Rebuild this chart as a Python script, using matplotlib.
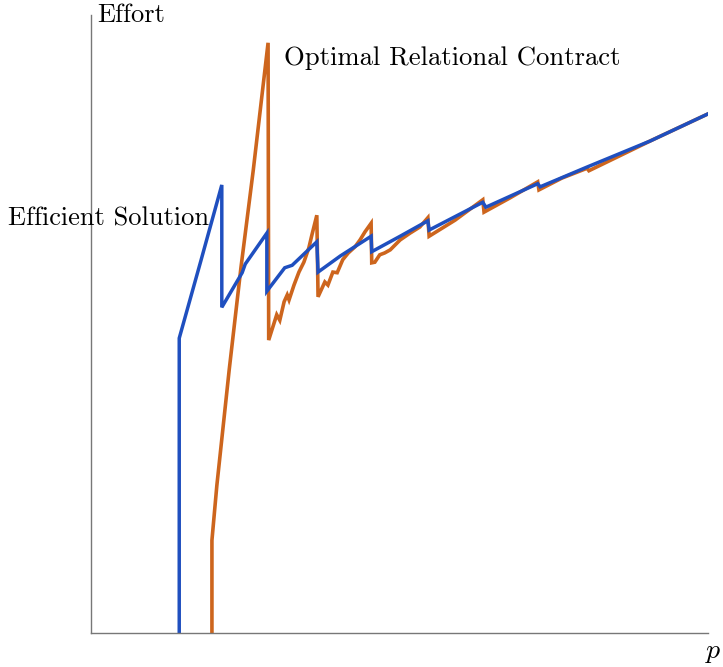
import numpy as np
import matplotlib
matplotlib.use("Agg")
import matplotlib.pyplot as plt

plt.rcParams['font.family'] = 'cmr10'
plt.rcParams['mathtext.fontset'] = 'cm'

# optimal relational contract (p, effort)
orc_p = [0.196, 0.196, 0.204, 0.224, 0.243, 0.263, 0.287,
         0.288, 0.301, 0.306, 0.313, 0.318, 0.321, 0.329, 0.337, 0.345, 0.353, 0.358, 0.366,
         0.368, 0.379, 0.384, 0.392, 0.399, 0.408, 0.417, 0.428, 0.436, 0.444, 0.454,
         0.455, 0.460, 0.468, 0.476, 0.485, 0.501, 0.517, 0.533, 0.546,
         0.548, 0.590, 0.635,
         0.637, 0.679, 0.724,
         0.726, 0.763, 0.804, 0.807, 0.906, 1.0]
orc_e = [0.0, 0.150, 0.239, 0.426, 0.591, 0.749, 0.955,
         0.474, 0.515, 0.506, 0.536, 0.547, 0.539, 0.563, 0.584, 0.600, 0.623, 0.644, 0.676,
         0.544, 0.568, 0.563, 0.584, 0.583, 0.604, 0.615, 0.625, 0.636, 0.649, 0.663,
         0.599, 0.600, 0.612, 0.615, 0.620, 0.636, 0.647, 0.657, 0.672,
         0.642, 0.668, 0.701,
         0.681, 0.704, 0.730,
         0.717, 0.736, 0.752, 0.748, 0.796, 0.840]

# efficient solution (p, effort)
eff_p = [0.143, 0.143, 0.178, 0.212,
         0.212, 0.245, 0.250, 0.285,
         0.285, 0.314, 0.326, 0.366,
         0.368, 0.404, 0.454,
         0.455, 0.501, 0.546,
         0.548, 0.635,
         0.640, 0.724,
         0.728, 0.804, 0.906, 1.0]
eff_e = [0.0, 0.477, 0.602, 0.725,
         0.527, 0.583, 0.597, 0.647,
         0.553, 0.591, 0.595, 0.633,
         0.584, 0.610, 0.642,
         0.617, 0.642, 0.667,
         0.652, 0.697,
         0.689, 0.727,
         0.722, 0.754, 0.796, 0.840]

fig = plt.figure(figsize=(7.23, 6.67), dpi=100)
ax = fig.add_axes([91/723, 34/667, 617/723, 618/667])

ax.plot(orc_p, orc_e, color='#cd651d', lw=2.6, solid_joinstyle='miter')
ax.plot(eff_p, eff_e, color='#1f4fbf', lw=2.5, solid_joinstyle='miter')

ax.set_xlim(0, 1)
ax.set_ylim(0, 1)
for side in ['top', 'right']:
    ax.spines[side].set_visible(False)
for side in ['left', 'bottom']:
    ax.spines[side].set_color('#777777')
    ax.spines[side].set_linewidth(1.0)
ax.set_xticks([])
ax.set_yticks([])

ax.text(0.0097, 0.989, 'Effort', fontsize=19, va='baseline', ha='left', clip_on=False)
ax.text(1.008, -0.031, '$p$', fontsize=20, va='center', ha='center', clip_on=False)
ax.text(0.312, 0.919, 'Optimal Relational Contract', fontsize=19.2, va='baseline', ha='left')
ax.text(-0.135, 0.660, 'Efficient Solution', fontsize=19, va='baseline', ha='left', clip_on=False)

fig.savefig('out.png', dpi=100)
